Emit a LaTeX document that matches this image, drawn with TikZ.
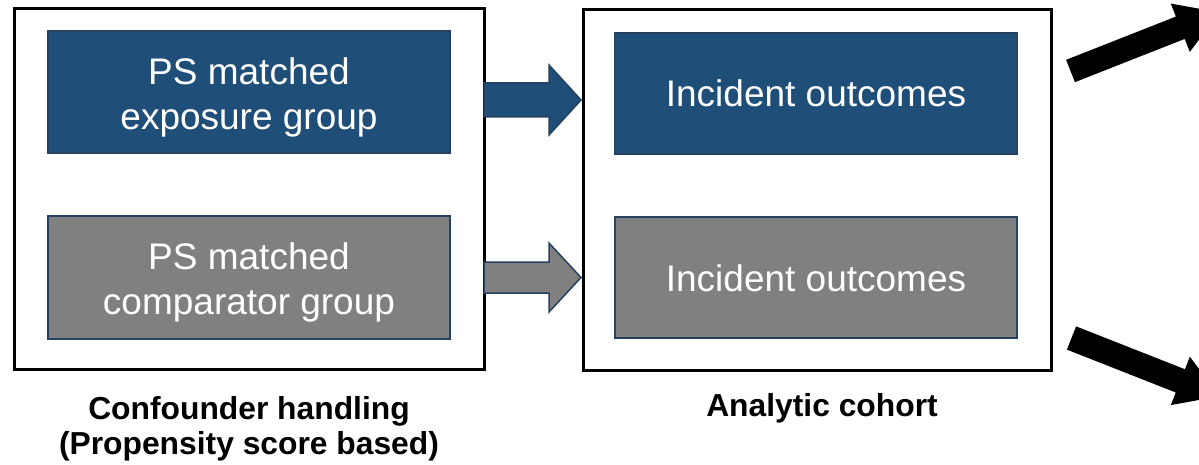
\documentclass[tikz,border=0pt]{standalone}
\usepackage{fontspec}
\setmainfont{Liberation Sans}
\begin{document}
\begin{tikzpicture}[x=1pt,y=-1pt,
  outerbox/.style={draw=black,line width=3pt,fill=none},
  groupbox/.style={draw=edgeblue,line width=1.5pt,minimum width=402pt,inner sep=0pt},
  bluebox/.style={groupbox,fill=boxblue},
  graybox/.style={groupbox,fill=boxgray},
  boxtext/.style={text=white,align=center,inner sep=0pt,font=\fontsize{37}{45}\selectfont},
  caption/.style={align=center,font=\fontsize{31.8}{35}\selectfont\bfseries},
  blockarrow/.style={draw=edgeblue,line width=1.5pt,line join=miter},
  bigarrow/.style={fill=black}]
\definecolor{boxblue}{RGB}{31,78,121}
\definecolor{boxgray}{RGB}{128,128,128}
\definecolor{edgeblue}{RGB}{38,64,96}
\useasboundingbox (0,0) rectangle (1199,465);
\clip (0,0) rectangle (1199,465);

% outer frames
\draw[outerbox] (14.5,8.5) rectangle (484.5,369);
\draw[outerbox] (583,10) rectangle (1051,370);

% group boxes
\node[bluebox,minimum height=122pt] (expo) at (249,92) {};
\node[graybox,minimum height=123pt] (comp) at (249,277.5) {};
\node[bluebox,minimum height=121pt] (outA) at (816,93.5) {};
\node[graybox,minimum height=121pt] (outB) at (816,277.5) {};

% box texts
\node[boxtext] (expoT) at ([yshift=-5pt]expo.center) {PS matched\\exposure group};
\node[boxtext] (compT) at ([yshift=-5pt]comp.center) {PS matched\\comparator group};
\node[boxtext] (outAT) at (outA.center) {Incident outcomes};
\node[boxtext] (outBT) at ([yshift=-1pt]outB.center) {Incident outcomes};

% captions
\node[caption] (capL) at (249,428.5) {Confounder handling\\(Propensity score based)};
\node[caption] (capR) at (822,408) {Analytic cohort};

% block arrows between the frames
\coordinate (tA) at (581,100);
\coordinate (tB) at (581,277.5);
\filldraw[blockarrow,fill=boxblue]
  (484,83) -- (549,83) -- (549,65) -- (tA) -- (549,135) -- (549,117) -- (484,117) -- cycle;
\filldraw[blockarrow,fill=boxgray]
  (484,262) -- (549,262) -- (549,243) -- (tB) -- (549,312) -- (549,293) -- (484,293) -- cycle;

% heavy arrows leaving the cohort
\coordinate (upTail) at (1070.5,71);
\coordinate (dnTail) at (1071.5,338);
\begin{scope}[shift={(upTail)},rotate=21.5]
  \fill[bigarrow] (0,-12) -- (118,-12) -- (118,-26) -- (160,0) -- (118,26) -- (118,12) -- (0,12) -- cycle;
\end{scope}
\begin{scope}[shift={(dnTail)},rotate=-21.5]
  \fill[bigarrow] (0,-12.5) -- (117,-12.5) -- (117,-26) -- (159,0) -- (117,26) -- (117,12.5) -- (0,12.5) -- cycle;
\end{scope}
\end{tikzpicture}
\end{document}
